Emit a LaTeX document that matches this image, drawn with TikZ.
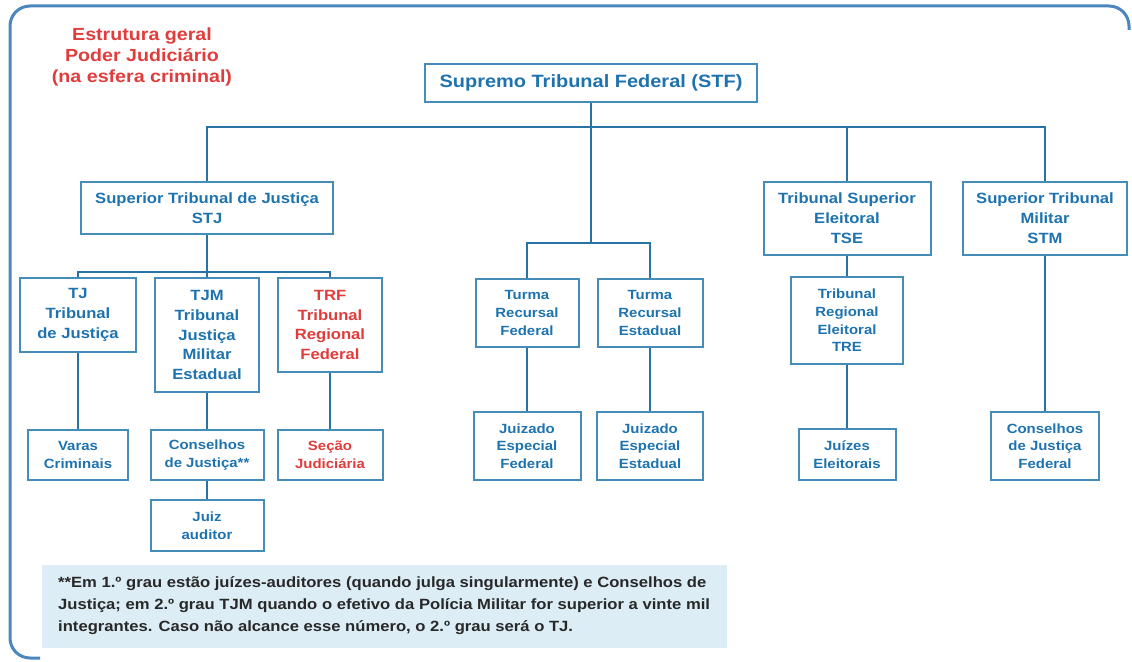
\documentclass[tikz,border=0pt]{standalone}
\usepackage{fontspec}
\setmainfont[FakeStretch=1.12]{Liberation Sans}
\definecolor{framec}{RGB}{75,135,190}
\definecolor{boxc}{RGB}{70,140,185}
\definecolor{linkc}{RGB}{40,115,165}
\definecolor{txtc}{RGB}{30,115,175}
\definecolor{redc}{RGB}{225,60,60}
\definecolor{notefill}{RGB}{220,237,245}
\definecolor{notetxt}{RGB}{40,40,40}
\tikzset{
  box/.style={draw=boxc, line width=2bp, fill=white, text=txtc, align=center, inner sep=0pt},
  topbox/.style={box, font=\bfseries\fontsize{17.9}{20}\selectfont},
  upperbox/.style={box, font=\bfseries\fontsize{14.9}{20}\selectfont},
  lowerbox/.style={box, font=\bfseries\fontsize{13.4}{17.7}\selectfont},
  link/.style={draw=linkc, line width=2.4bp},
}
\begin{document}
\begin{tikzpicture}[x=1bp,y=-1bp]
\useasboundingbox (0,0) rectangle (1132,662);

% outer frame (left and top edges)
\draw[framec, line width=3bp, rounded corners=20bp] (40,658) -- (10,658) -- (10,6) -- (1129,6) -- (1129,30);

% heading
\node[text=redc, font=\bfseries\fontsize{17.6}{21.5}\selectfont, align=center] (title) at (142,57)
  {Estrutura geral\\Poder Judiciário\\(na esfera criminal)};

% top level
\node[topbox, minimum width=332bp, minimum height=38bp] (stf) at (591,83) {Supremo Tribunal Federal (STF)};

% second level
\node[upperbox, minimum width=252bp, minimum height=52bp] (stj) at (207,208) {Superior Tribunal de Justiça\\STJ};
\node[upperbox, minimum width=167bp, minimum height=73bp] (tse) at (847,218.5) {Tribunal Superior\\Eleitoral\\TSE};
\node[upperbox, minimum width=164bp, minimum height=73bp] (stm) at (1045,218.5) {Superior Tribunal\\Militar\\STM};

% courts under STJ
\node[upperbox, minimum width=115bp, minimum height=74bp] (tj) at (78,315) {TJ\\Tribunal\\de Justiça};
\node[upperbox, minimum width=104bp, minimum height=114bp] (tjm) at (207,335) {TJM\\Tribunal\\Justiça\\Militar\\Estadual};
\node[upperbox, text=redc, minimum width=104bp, minimum height=94bp] (trf) at (330,325) {TRF\\Tribunal\\Regional\\Federal};

% appeal panels
\node[lowerbox, minimum width=103bp, minimum height=68bp] (trfd) at (527,313) {Turma\\Recursal\\Federal};
\node[lowerbox, minimum width=105bp, minimum height=68bp] (tres) at (650,313) {Turma\\Recursal\\Estadual};

% electoral branch
\node[lowerbox, minimum width=112bp, minimum height=87bp] (tre) at (847,320.5) {Tribunal\\Regional\\Eleitoral\\TRE};

% first instance
\node[lowerbox, minimum width=99bp, minimum height=50bp] (varas) at (78,455) {Varas\\Criminais};
\node[lowerbox, minimum width=113bp, minimum height=50bp] (cons) at (207,455) {Conselhos\\de Justiça**};
\node[lowerbox, text=redc, minimum width=105bp, minimum height=50bp] (secao) at (330,455) {Seção\\Judiciária};
\node[lowerbox, minimum width=113bp, minimum height=51bp] (juiz) at (207,525.5) {Juiz\\auditor};
\node[lowerbox, minimum width=107bp, minimum height=68bp] (jef) at (527,446) {Juizado\\Especial\\Federal};
\node[lowerbox, minimum width=106bp, minimum height=68bp] (jee) at (650,446) {Juizado\\Especial\\Estadual};
\node[lowerbox, minimum width=97bp, minimum height=51bp] (jel) at (847,454.5) {Juízes\\Eleitorais};
\node[lowerbox, minimum width=108bp, minimum height=68bp] (cjf) at (1045,446) {Conselhos\\de Justiça\\Federal};

% bus coordinates
\coordinate (busA) at (591,127);
\coordinate (busB) at (591,243);
\coordinate (busC) at (207,272);

% connectors
\draw[link] (stf.south) -- (busA);
\draw[link] (stj.north) |- (busA) -| (stm.north);
\draw[link] (tse.north) -- (tse.north |- busA);
\draw[link] (busA) -- (busB);
\draw[link] (trfd.north) |- (busB) -| (tres.north);
\draw[link] (stj.south) -- (busC);
\draw[link] (tj.north) |- (busC) -| (trf.north);
\draw[link] (tjm.north) -- (tjm.north |- busC);
\draw[link] (tj.south) -- (varas.north);
\draw[link] (tjm.south) -- (cons.north);
\draw[link] (cons.south) -- (juiz.north);
\draw[link] (trf.south) -- (secao.north);
\draw[link] (trfd.south) -- (jef.north);
\draw[link] (tres.south) -- (jee.north);
\draw[link] (tse.south) -- (tre.north);
\draw[link] (tre.south) -- (jel.north);
\draw[link] (stm.south) -- (cjf.north);

% footnote
\fill[notefill] (42,565) rectangle (727,648);
\node[anchor=north west, text=notetxt, font=\bfseries\fontsize{14.9}{22.5}\selectfont, align=left, inner sep=0pt] (note) at (58,576)
  {**Em 1.º grau estão juízes-auditores (quando julga singularmente) e Conselhos de\\
   Justiça; em 2.º grau TJM quando o efetivo da Polícia Militar for superior a vinte mil\\
   integrantes. Caso não alcance esse número, o 2.º grau será o TJ.};
\end{tikzpicture}
\end{document}
